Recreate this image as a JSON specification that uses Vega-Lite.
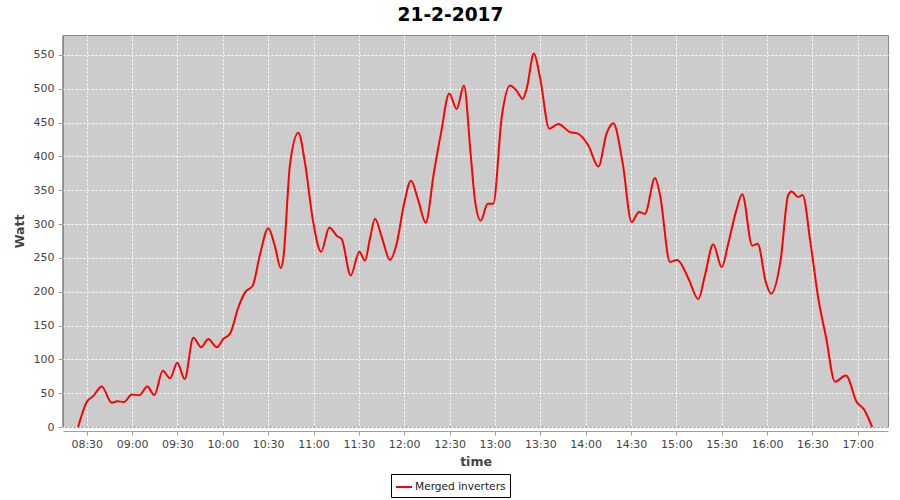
{
  "$schema": "https://vega.github.io/schema/vega-lite/v6.json",
  "width": 825,
  "height": 392,
  "autosize": {"type": "none"},
  "padding": {"left": 63, "top": 35, "right": 12, "bottom": 73},
  "background": "white",
  "title": {
    "text": "21-2-2017",
    "font": "DejaVu Sans",
    "fontSize": 18.6,
    "fontWeight": "bold",
    "color": "#000000",
    "anchor": "middle",
    "frame": "bounds",
    "offset": 10
  },
  "config": {
    "view": {"fill": "#cccccc", "stroke": "#8a8a8a", "strokeWidth": 1},
    "axis": {
      "labelFont": "DejaVu Sans",
      "labelFontSize": 11,
      "labelColor": "#444444",
      "titleFont": "DejaVu Sans",
      "titleFontSize": 12.5,
      "titleFontWeight": "bold",
      "titleColor": "#444444",
      "domainColor": "#a0a0a0",
      "tickColor": "#a0a0a0",
      "gridColor": "#ffffff",
      "gridDash": [2, 2],
      "gridWidth": 1,
      "gridOpacity": 1
    }
  },
  "data": {
    "values": [
      {"time": "2017-02-21T08:24:18", "watt": 0, "series": "Merged inverters"},
      {"time": "2017-02-21T08:30:00", "watt": 37, "series": "Merged inverters"},
      {"time": "2017-02-21T08:34:24", "watt": 46, "series": "Merged inverters"},
      {"time": "2017-02-21T08:39:54", "watt": 60, "series": "Merged inverters"},
      {"time": "2017-02-21T08:46:30", "watt": 36, "series": "Merged inverters"},
      {"time": "2017-02-21T08:50:12", "watt": 38, "series": "Merged inverters"},
      {"time": "2017-02-21T08:54:42", "watt": 37, "series": "Merged inverters"},
      {"time": "2017-02-21T08:59:48", "watt": 48, "series": "Merged inverters"},
      {"time": "2017-02-21T09:04:48", "watt": 47, "series": "Merged inverters"},
      {"time": "2017-02-21T09:10:06", "watt": 60, "series": "Merged inverters"},
      {"time": "2017-02-21T09:14:42", "watt": 47, "series": "Merged inverters"},
      {"time": "2017-02-21T09:20:18", "watt": 83, "series": "Merged inverters"},
      {"time": "2017-02-21T09:25:06", "watt": 72, "series": "Merged inverters"},
      {"time": "2017-02-21T09:29:54", "watt": 95, "series": "Merged inverters"},
      {"time": "2017-02-21T09:34:48", "watt": 71, "series": "Merged inverters"},
      {"time": "2017-02-21T09:40:30", "watt": 132, "series": "Merged inverters"},
      {"time": "2017-02-21T09:45:48", "watt": 118, "series": "Merged inverters"},
      {"time": "2017-02-21T09:50:24", "watt": 130, "series": "Merged inverters"},
      {"time": "2017-02-21T09:56:00", "watt": 118, "series": "Merged inverters"},
      {"time": "2017-02-21T10:00:18", "watt": 130, "series": "Merged inverters"},
      {"time": "2017-02-21T10:04:48", "watt": 138, "series": "Merged inverters"},
      {"time": "2017-02-21T10:10:18", "watt": 177, "series": "Merged inverters"},
      {"time": "2017-02-21T10:14:42", "watt": 199, "series": "Merged inverters"},
      {"time": "2017-02-21T10:19:48", "watt": 209, "series": "Merged inverters"},
      {"time": "2017-02-21T10:24:36", "watt": 255, "series": "Merged inverters"},
      {"time": "2017-02-21T10:30:06", "watt": 294, "series": "Merged inverters"},
      {"time": "2017-02-21T10:34:30", "watt": 267, "series": "Merged inverters"},
      {"time": "2017-02-21T10:38:18", "watt": 235, "series": "Merged inverters"},
      {"time": "2017-02-21T10:40:00", "watt": 249, "series": "Merged inverters"},
      {"time": "2017-02-21T10:44:30", "watt": 389, "series": "Merged inverters"},
      {"time": "2017-02-21T10:50:00", "watt": 435, "series": "Merged inverters"},
      {"time": "2017-02-21T10:54:24", "watt": 390, "series": "Merged inverters"},
      {"time": "2017-02-21T10:59:30", "watt": 307, "series": "Merged inverters"},
      {"time": "2017-02-21T11:05:00", "watt": 259, "series": "Merged inverters"},
      {"time": "2017-02-21T11:10:30", "watt": 295, "series": "Merged inverters"},
      {"time": "2017-02-21T11:15:42", "watt": 282, "series": "Merged inverters"},
      {"time": "2017-02-21T11:18:36", "watt": 278, "series": "Merged inverters"},
      {"time": "2017-02-21T11:24:36", "watt": 224, "series": "Merged inverters"},
      {"time": "2017-02-21T11:30:18", "watt": 259, "series": "Merged inverters"},
      {"time": "2017-02-21T11:34:00", "watt": 246, "series": "Merged inverters"},
      {"time": "2017-02-21T11:37:24", "watt": 279, "series": "Merged inverters"},
      {"time": "2017-02-21T11:40:42", "watt": 308, "series": "Merged inverters"},
      {"time": "2017-02-21T11:45:06", "watt": 281, "series": "Merged inverters"},
      {"time": "2017-02-21T11:50:36", "watt": 247, "series": "Merged inverters"},
      {"time": "2017-02-21T11:55:00", "watt": 271, "series": "Merged inverters"},
      {"time": "2017-02-21T11:59:54", "watt": 330, "series": "Merged inverters"},
      {"time": "2017-02-21T12:04:30", "watt": 364, "series": "Merged inverters"},
      {"time": "2017-02-21T12:09:18", "watt": 335, "series": "Merged inverters"},
      {"time": "2017-02-21T12:14:12", "watt": 302, "series": "Merged inverters"},
      {"time": "2017-02-21T12:19:42", "watt": 377, "series": "Merged inverters"},
      {"time": "2017-02-21T12:24:18", "watt": 434, "series": "Merged inverters"},
      {"time": "2017-02-21T12:29:48", "watt": 493, "series": "Merged inverters"},
      {"time": "2017-02-21T12:34:42", "watt": 470, "series": "Merged inverters"},
      {"time": "2017-02-21T12:39:30", "watt": 505, "series": "Merged inverters"},
      {"time": "2017-02-21T12:44:00", "watt": 402, "series": "Merged inverters"},
      {"time": "2017-02-21T12:46:48", "watt": 335, "series": "Merged inverters"},
      {"time": "2017-02-21T12:50:36", "watt": 305, "series": "Merged inverters"},
      {"time": "2017-02-21T12:55:12", "watt": 330, "series": "Merged inverters"},
      {"time": "2017-02-21T12:58:54", "watt": 330, "series": "Merged inverters"},
      {"time": "2017-02-21T13:04:30", "watt": 458, "series": "Merged inverters"},
      {"time": "2017-02-21T13:10:00", "watt": 505, "series": "Merged inverters"},
      {"time": "2017-02-21T13:14:24", "watt": 497, "series": "Merged inverters"},
      {"time": "2017-02-21T13:18:24", "watt": 485, "series": "Merged inverters"},
      {"time": "2017-02-21T13:21:00", "watt": 500, "series": "Merged inverters"},
      {"time": "2017-02-21T13:25:48", "watt": 552, "series": "Merged inverters"},
      {"time": "2017-02-21T13:29:48", "watt": 517, "series": "Merged inverters"},
      {"time": "2017-02-21T13:36:00", "watt": 441, "series": "Merged inverters"},
      {"time": "2017-02-21T13:41:54", "watt": 448, "series": "Merged inverters"},
      {"time": "2017-02-21T13:49:36", "watt": 436, "series": "Merged inverters"},
      {"time": "2017-02-21T13:54:30", "watt": 434, "series": "Merged inverters"},
      {"time": "2017-02-21T14:01:48", "watt": 416, "series": "Merged inverters"},
      {"time": "2017-02-21T14:08:24", "watt": 385, "series": "Merged inverters"},
      {"time": "2017-02-21T14:13:54", "watt": 434, "series": "Merged inverters"},
      {"time": "2017-02-21T14:18:18", "watt": 449, "series": "Merged inverters"},
      {"time": "2017-02-21T14:24:30", "watt": 390, "series": "Merged inverters"},
      {"time": "2017-02-21T14:30:24", "watt": 303, "series": "Merged inverters"},
      {"time": "2017-02-21T14:35:18", "watt": 318, "series": "Merged inverters"},
      {"time": "2017-02-21T14:39:12", "watt": 315, "series": "Merged inverters"},
      {"time": "2017-02-21T14:45:54", "watt": 368, "series": "Merged inverters"},
      {"time": "2017-02-21T14:49:12", "watt": 343, "series": "Merged inverters"},
      {"time": "2017-02-21T14:55:48", "watt": 244, "series": "Merged inverters"},
      {"time": "2017-02-21T15:00:36", "watt": 247, "series": "Merged inverters"},
      {"time": "2017-02-21T15:07:54", "watt": 220, "series": "Merged inverters"},
      {"time": "2017-02-21T15:14:30", "watt": 189, "series": "Merged inverters"},
      {"time": "2017-02-21T15:18:54", "watt": 224, "series": "Merged inverters"},
      {"time": "2017-02-21T15:24:24", "watt": 270, "series": "Merged inverters"},
      {"time": "2017-02-21T15:30:00", "watt": 236, "series": "Merged inverters"},
      {"time": "2017-02-21T15:34:18", "watt": 271, "series": "Merged inverters"},
      {"time": "2017-02-21T15:39:24", "watt": 318, "series": "Merged inverters"},
      {"time": "2017-02-21T15:43:36", "watt": 344, "series": "Merged inverters"},
      {"time": "2017-02-21T15:50:12", "watt": 268, "series": "Merged inverters"},
      {"time": "2017-02-21T15:53:48", "watt": 271, "series": "Merged inverters"},
      {"time": "2017-02-21T15:59:06", "watt": 215, "series": "Merged inverters"},
      {"time": "2017-02-21T16:02:36", "watt": 197, "series": "Merged inverters"},
      {"time": "2017-02-21T16:09:00", "watt": 247, "series": "Merged inverters"},
      {"time": "2017-02-21T16:14:00", "watt": 343, "series": "Merged inverters"},
      {"time": "2017-02-21T16:16:18", "watt": 348, "series": "Merged inverters"},
      {"time": "2017-02-21T16:20:36", "watt": 340, "series": "Merged inverters"},
      {"time": "2017-02-21T16:23:30", "watt": 343, "series": "Merged inverters"},
      {"time": "2017-02-21T16:28:48", "watt": 271, "series": "Merged inverters"},
      {"time": "2017-02-21T16:33:54", "watt": 190, "series": "Merged inverters"},
      {"time": "2017-02-21T16:39:00", "watt": 133, "series": "Merged inverters"},
      {"time": "2017-02-21T16:44:54", "watt": 67, "series": "Merged inverters"},
      {"time": "2017-02-21T16:52:12", "watt": 76, "series": "Merged inverters"},
      {"time": "2017-02-21T16:59:18", "watt": 37, "series": "Merged inverters"},
      {"time": "2017-02-21T17:04:06", "watt": 26, "series": "Merged inverters"},
      {"time": "2017-02-21T17:09:30", "watt": 0, "series": "Merged inverters"}
    ]
  },
  "mark": {"type": "line", "interpolate": "monotone", "strokeWidth": 2},
  "encoding": {
    "x": {
      "field": "time",
      "type": "temporal",
      "title": "time",
      "scale": {
        "domain": [
          {"year": 2017, "month": 2, "date": 21, "hours": 8, "minutes": 14, "seconds": 18},
          {"year": 2017, "month": 2, "date": 21, "hours": 17, "minutes": 20, "seconds": 0}
        ],
        "nice": false
      },
      "axis": {
        "format": "%H:%M",
        "values": [
          {"year": 2017, "month": 2, "date": 21, "hours": 8, "minutes": 30},
          {"year": 2017, "month": 2, "date": 21, "hours": 9, "minutes": 0},
          {"year": 2017, "month": 2, "date": 21, "hours": 9, "minutes": 30},
          {"year": 2017, "month": 2, "date": 21, "hours": 10, "minutes": 0},
          {"year": 2017, "month": 2, "date": 21, "hours": 10, "minutes": 30},
          {"year": 2017, "month": 2, "date": 21, "hours": 11, "minutes": 0},
          {"year": 2017, "month": 2, "date": 21, "hours": 11, "minutes": 30},
          {"year": 2017, "month": 2, "date": 21, "hours": 12, "minutes": 0},
          {"year": 2017, "month": 2, "date": 21, "hours": 12, "minutes": 30},
          {"year": 2017, "month": 2, "date": 21, "hours": 13, "minutes": 0},
          {"year": 2017, "month": 2, "date": 21, "hours": 13, "minutes": 30},
          {"year": 2017, "month": 2, "date": 21, "hours": 14, "minutes": 0},
          {"year": 2017, "month": 2, "date": 21, "hours": 14, "minutes": 30},
          {"year": 2017, "month": 2, "date": 21, "hours": 15, "minutes": 0},
          {"year": 2017, "month": 2, "date": 21, "hours": 15, "minutes": 30},
          {"year": 2017, "month": 2, "date": 21, "hours": 16, "minutes": 0},
          {"year": 2017, "month": 2, "date": 21, "hours": 16, "minutes": 30},
          {"year": 2017, "month": 2, "date": 21, "hours": 17, "minutes": 0}
        ],
        "offset": 4,
        "tickSize": 4,
        "labelPadding": 3,
        "labelFlush": false,
        "labelOverlap": false,
        "grid": true,
        "titlePadding": 6
      }
    },
    "y": {
      "field": "watt",
      "type": "quantitative",
      "title": "Watt",
      "scale": {"domain": [0, 579.5], "nice": false, "zero": false},
      "axis": {
        "values": [0, 50, 100, 150, 200, 250, 300, 350, 400, 450, 500, 550],
        "offset": 1,
        "tickSize": 4,
        "labelPadding": 4,
        "grid": true,
        "titlePadding": 7
      }
    },
    "color": {
      "field": "series",
      "type": "nominal",
      "scale": {"range": ["#ff0000"]},
      "legend": {
        "title": null,
        "orient": "none",
        "legendX": 328,
        "legendY": 439,
        "padding": 4,
        "strokeColor": "#000000",
        "fillColor": "#ffffff",
        "cornerRadius": 0,
        "symbolType": "stroke",
        "symbolSize": 256,
        "symbolStrokeWidth": 2,
        "labelFont": "DejaVu Sans",
        "labelFontSize": 10.6,
        "labelColor": "#222222",
        "labelOffset": 2
      }
    }
  }
}
